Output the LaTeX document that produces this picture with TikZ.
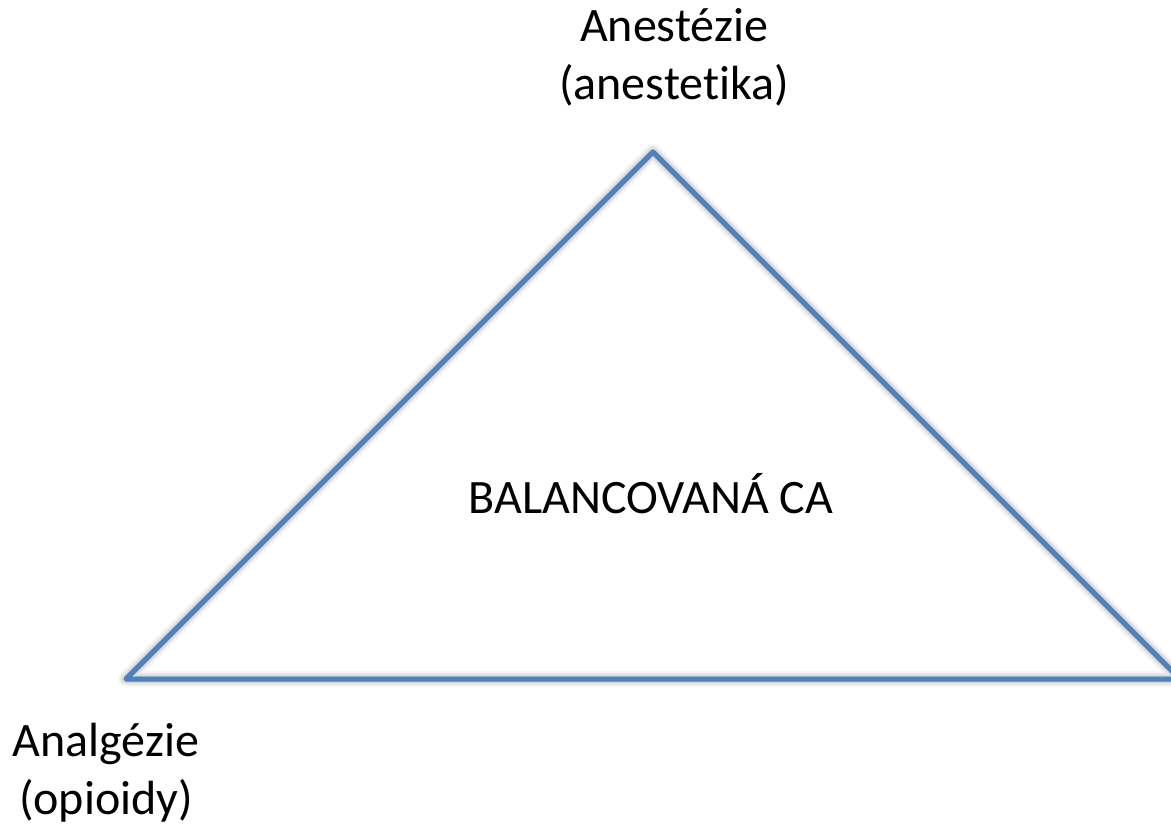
\documentclass[tikz,border=0pt]{standalone}
\usepackage{fontspec}
\setmainfont{Carlito}[Ligatures=NoCommon]
\definecolor{edgeblue}{HTML}{4F81BD}
\tikzset{
  edge/.style={draw=edgeblue, line width=5pt, line join=round, line cap=round},
  shade/.style={draw=black, line join=round, line cap=round},
  lbl/.style={inner sep=0pt, align=center, font=\fontsize{48}{58}\selectfont},
  midlbl/.style={inner sep=0pt, font=\fontsize{48}{50}\selectfont}
}
\begin{document}
\begin{tikzpicture}[x=1pt,y=-1pt]
\useasboundingbox (0,0) rectangle (1171,826);
\coordinate (top) at (653,152);
\coordinate (bl) at (126,679);
\coordinate (br) at (1180,679);
% soft shadow
\foreach \w/\o in {16/0.04,12/0.06,8/0.08,5/0.12} {
  \draw[shade, line width=\w pt, opacity=\o, shift={(2,7)}] (top) -- (bl) -- (br) -- cycle;
}
\draw[edge] (top) -- (bl) -- (br) -- cycle;
\node[lbl, anchor=base] (anest) at (674,100) {Anestézie\\(anestetika)};
\node[lbl, anchor=base] (analg) at (106,814) {Analgézie\\(opioidy)};
\node[midlbl, anchor=base] (bal) at (651,513) {BALANCOVANÁ CA};
\end{tikzpicture}
\end{document}
